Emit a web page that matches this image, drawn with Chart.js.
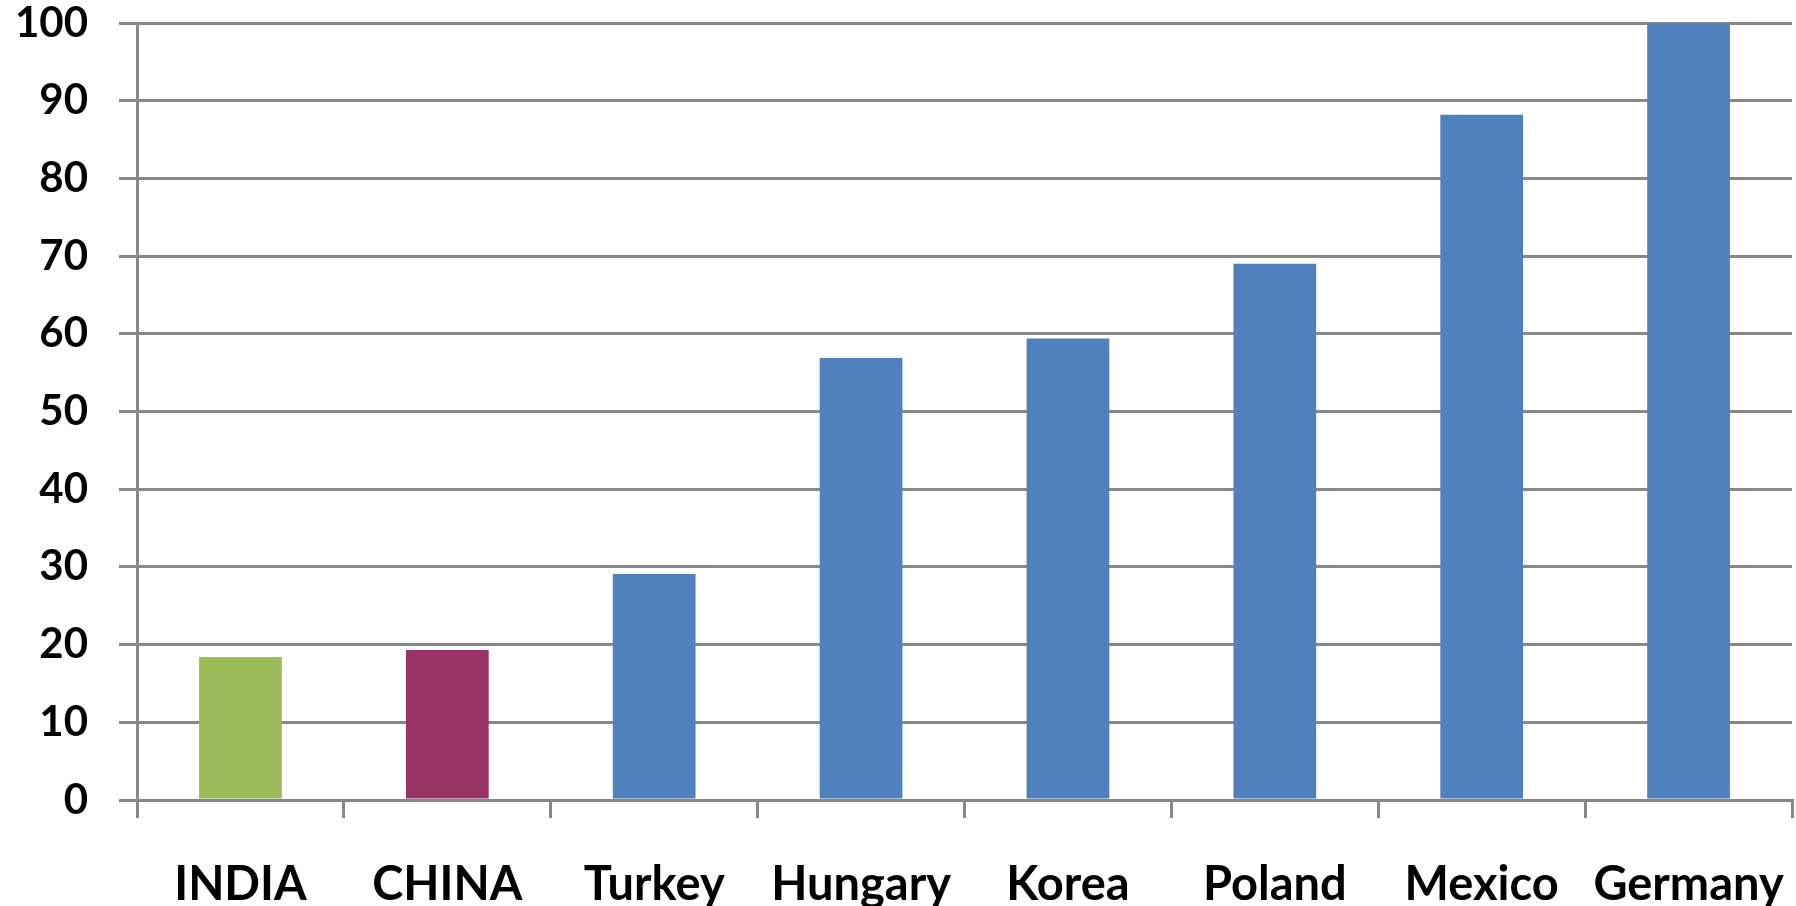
<!DOCTYPE html>
<html>
<head>
<meta charset="utf-8">
<script src="https://cdn.jsdelivr.net/npm/chart.js@4.4.0/dist/chart.umd.min.js"></script>
<style>
body { margin: 0; background: #fff; }
#wrap { width: 1796px; height: 906px; position: relative; }
</style>
</head>
<body>
<div id="wrap"><canvas id="myChart"></canvas></div>
<script>
var countries = ['INDIA', 'CHINA', 'Turkey', 'Hungary', 'Korea', 'Poland', 'Mexico', 'Germany'];
var values = [18.4, 19.3, 29.1, 56.9, 59.4, 69.0, 88.2, 100];
var barColors = ['#9BBB59', '#983363', '#4F81BD', '#4F81BD', '#4F81BD', '#4F81BD', '#4F81BD', '#4F81BD'];
var yTicks = [0, 10, 20, 30, 40, 50, 60, 70, 80, 90, 100];

var lineGray = '#888888';

window.onload = function() {
    var ctx = document.getElementById('myChart').getContext('2d');
    window.myBar = new Chart(ctx, {
        type: 'bar',
        data: {
            labels: countries,
            datasets: [{
                data: values,
                backgroundColor: barColors,
                borderWidth: 0,
                categoryPercentage: 1,
                barPercentage: 0.4
            }]
        },
        options: {
            responsive: true,
            maintainAspectRatio: false,
            animation: false,
            layout: { padding: { top: 23, right: 4, left: 0, bottom: 0 } },
            plugins: { legend: { display: false }, tooltip: { enabled: false } },
            scales: {
                x: {
                    offset: true,
                    grid: {
                        offset: true,
                        drawOnChartArea: false,
                        color: lineGray,
                        tickColor: lineGray,
                        lineWidth: 3,
                        tickLength: 18
                    },
                    border: { display: true, color: lineGray, width: 3 },
                    ticks: {
                        color: '#000',
                        padding: 39,
                        maxRotation: 0,
                        autoSkip: false,
                        font: { family: 'Lato', weight: 'bold', size: 47 }
                    },
                    afterFit: function(s) {
                        s.height = 106;
                        s.paddingLeft = 0;
                        s.paddingRight = 0;
                    }
                },
                y: {
                    min: 0,
                    max: 100,
                    afterBuildTicks: function(s) { s.ticks = yTicks.map(function(v) { return { value: v }; }); },
                    grid: {
                        color: lineGray,
                        tickColor: lineGray,
                        lineWidth: 3,
                        tickLength: 18
                    },
                    border: { display: true, color: lineGray, width: 3 },
                    ticks: {
                        color: '#000',
                        padding: 31,
                        font: { family: 'Lato', weight: 'bold', size: 42 }
                    },
                    afterFit: function(s) {
                        s.width = 137;
                        s.paddingTop = 0;
                        s.paddingBottom = 0;
                    }
                }
            }
        }
    });
};
</script>
</body>
</html>
